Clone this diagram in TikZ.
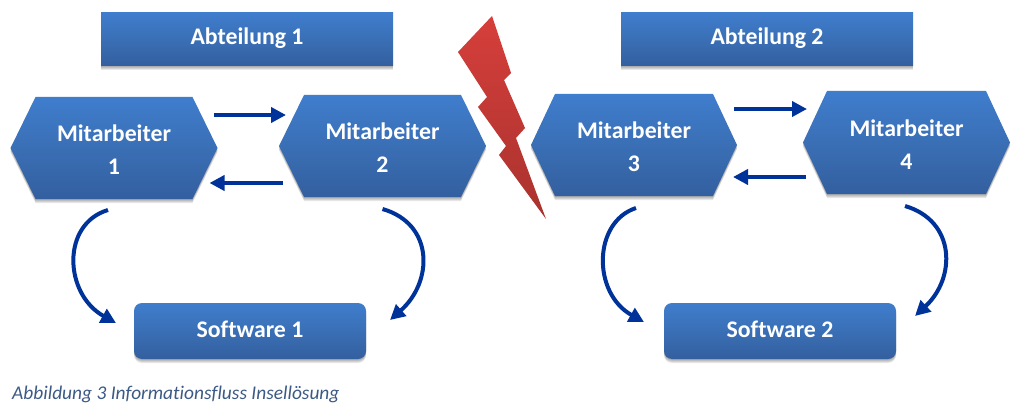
\documentclass[tikz,border=0pt]{standalone}
\usepackage{fontspec}
\setmainfont[Ligatures=NoCommon]{Carlito}
\usetikzlibrary{arrows.meta,calc}
\definecolor{boxtop}{HTML}{3F7DCD}
\definecolor{boxmid}{HTML}{3A6FB5}
\definecolor{boxbot}{HTML}{335F9F}
\definecolor{flowblue}{HTML}{003399}
\definecolor{boltA}{HTML}{D63F3B}
\definecolor{boltB}{HTML}{A9322E}
\definecolor{captionblue}{HTML}{3C5A85}
\tikzset{
  x=1pt,y=-1pt,
  boxshade/.style={top color=boxtop,bottom color=boxbot,middle color=boxmid,draw=none},
  boxlabel/.style={text=white,font=\fontsize{23.8}{33}\selectfont\bfseries,align=center,inner sep=0pt},
  frame/.style={draw=none,fill=none,inner sep=0pt,outer sep=0pt},
  flow/.style={draw=flowblue,line width=4pt,-{Triangle[length=15pt,width=15pt]}},
  softshadow/.style={fill=black,fill opacity=.09,draw=none},
}
% \hexbox{name}{centre x}{centre y}{half width}{half height}{inset}{text}
\newcommand{\hexbox}[7]{
  \foreach \o in {1,2,3,4}{
    \fill[softshadow] (#2-#4,#3+\o) -- (#2-#4+#6,#3-#5+\o) -- (#2+#4-#6,#3-#5+\o) -- (#2+#4,#3+\o)
      -- (#2+#4-#6,#3+#5+\o) -- (#2-#4+#6,#3+#5+\o) -- cycle;
  }
  \shade[boxshade] (#2-#4,#3) -- (#2-#4+#6,#3-#5) -- (#2+#4-#6,#3-#5) -- (#2+#4,#3)
      -- (#2+#4-#6,#3+#5) -- (#2-#4+#6,#3+#5) -- cycle;
  \node[frame,minimum width=2*#4 pt,minimum height=2*#5 pt] (#1) at (#2,#3) {};
  \node[boxlabel] (#1t) at (#2,#3+2) {Mitarbeiter\\#7};
}
% \rectbox{name}{left}{top}{right}{bottom}{radius}{text}
\newcommand{\rectbox}[7]{
  \foreach \o in {1,2,3,4}{
    \fill[softshadow,rounded corners=#6pt] (#2,#3+\o) rectangle (#4,#5+\o);
  }
  \shade[boxshade,rounded corners=#6pt] (#2,#3) rectangle (#4,#5);
  \node[frame,minimum width=#4 pt-#2 pt,minimum height=#5 pt-#3 pt] (#1) at ({(#2+#4)/2},{(#3+#5)/2}) {};
  \node[boxlabel] (#1t) at ({(#2+#4)/2},{(#3+#5)/2-1.5}) {#7};
}
\begin{document}
\begin{tikzpicture}
\useasboundingbox (0,0) rectangle (1024,409);
\fill[white] (0,0) rectangle (1024,409);

\rectbox{abt1}{101}{13}{393}{66}{0}{Abteilung 1}
\rectbox{abt2}{621}{13}{913}{66}{0}{Abteilung 2}

\hexbox{m1}{114}{148}{103.5}{51}{25}{1}
\hexbox{m2}{382.5}{146}{103.5}{51}{25}{2}
\hexbox{m3}{634}{145}{103}{51}{24}{3}
\hexbox{m4}{906.5}{142.5}{103.5}{51.5}{24}{4}

\rectbox{sw1}{134}{303}{366}{359}{8}{Software 1}
\rectbox{sw2}{664}{303}{896}{359}{8}{Software 2}

% lightning
\shade[top color=boltA,bottom color=boltB,draw=none]
  (492,16) -- (511,73) -- (504,80) -- (525,128) -- (516,138) -- (546,219)
  -- (499,155) -- (506,146) -- (478,107) -- (487,97) -- (458,52) -- cycle;

% horizontal flows
\draw[flow] ([shift={(-4,-33)}]m1.east) -- ([shift={(7,-31)}]m2.west);
\draw[flow] ([shift={(4,37)}]m2.west) -- ([shift={(-8,35)}]m1.east);
\draw[flow] ([shift={(-3,-36)}]m3.east) -- ([shift={(4,-33.5)}]m4.west);
\draw[flow] ([shift={(3,34.5)}]m4.west) -- ([shift={(-4,32)}]m3.east);

% curved flows
\coordinate (c1s) at ([shift={(-6,11)}]m1.south);
\coordinate (c2s) at ([shift={(0,12)}]m2.south);
\coordinate (c3s) at ([shift={(2,12)}]m3.south);
\coordinate (c4s) at ([shift={(-1.5,12)}]m4.south);
\coordinate (c1e) at ([shift={(-18,20)}]sw1.north west);
\coordinate (c2e) at ([shift={(24,17)}]sw1.north east);
\coordinate (c3e) at ([shift={(-20,19)}]sw2.north west);
\coordinate (c4e) at ([shift={(19,13)}]sw2.north east);
\draw[flow] (c1s) .. controls ($(c1s)+(-47,14)$) and ($(c1e)+(-52,-29)$) .. (c1e);
\draw[flow] (c2s) .. controls ($(c2s)+(52,15)$) and ($(c2e)+(43,-38)$) .. (c2e);
\draw[flow] (c3s) .. controls ($(c3s)+(-43,14)$) and ($(c3e)+(-52,-29)$) .. (c3e);
\draw[flow] (c4s) .. controls ($(c4s)+(51,15)$) and ($(c4e)+(41,-38)$) .. (c4e);

\node[anchor=base west,inner sep=0pt,text=captionblue,font=\fontsize{19.4}{22}\selectfont\itshape] (cap) at (12,399) {Abbildung 3 Informationsfluss Insellösung};
\end{tikzpicture}
\end{document}
